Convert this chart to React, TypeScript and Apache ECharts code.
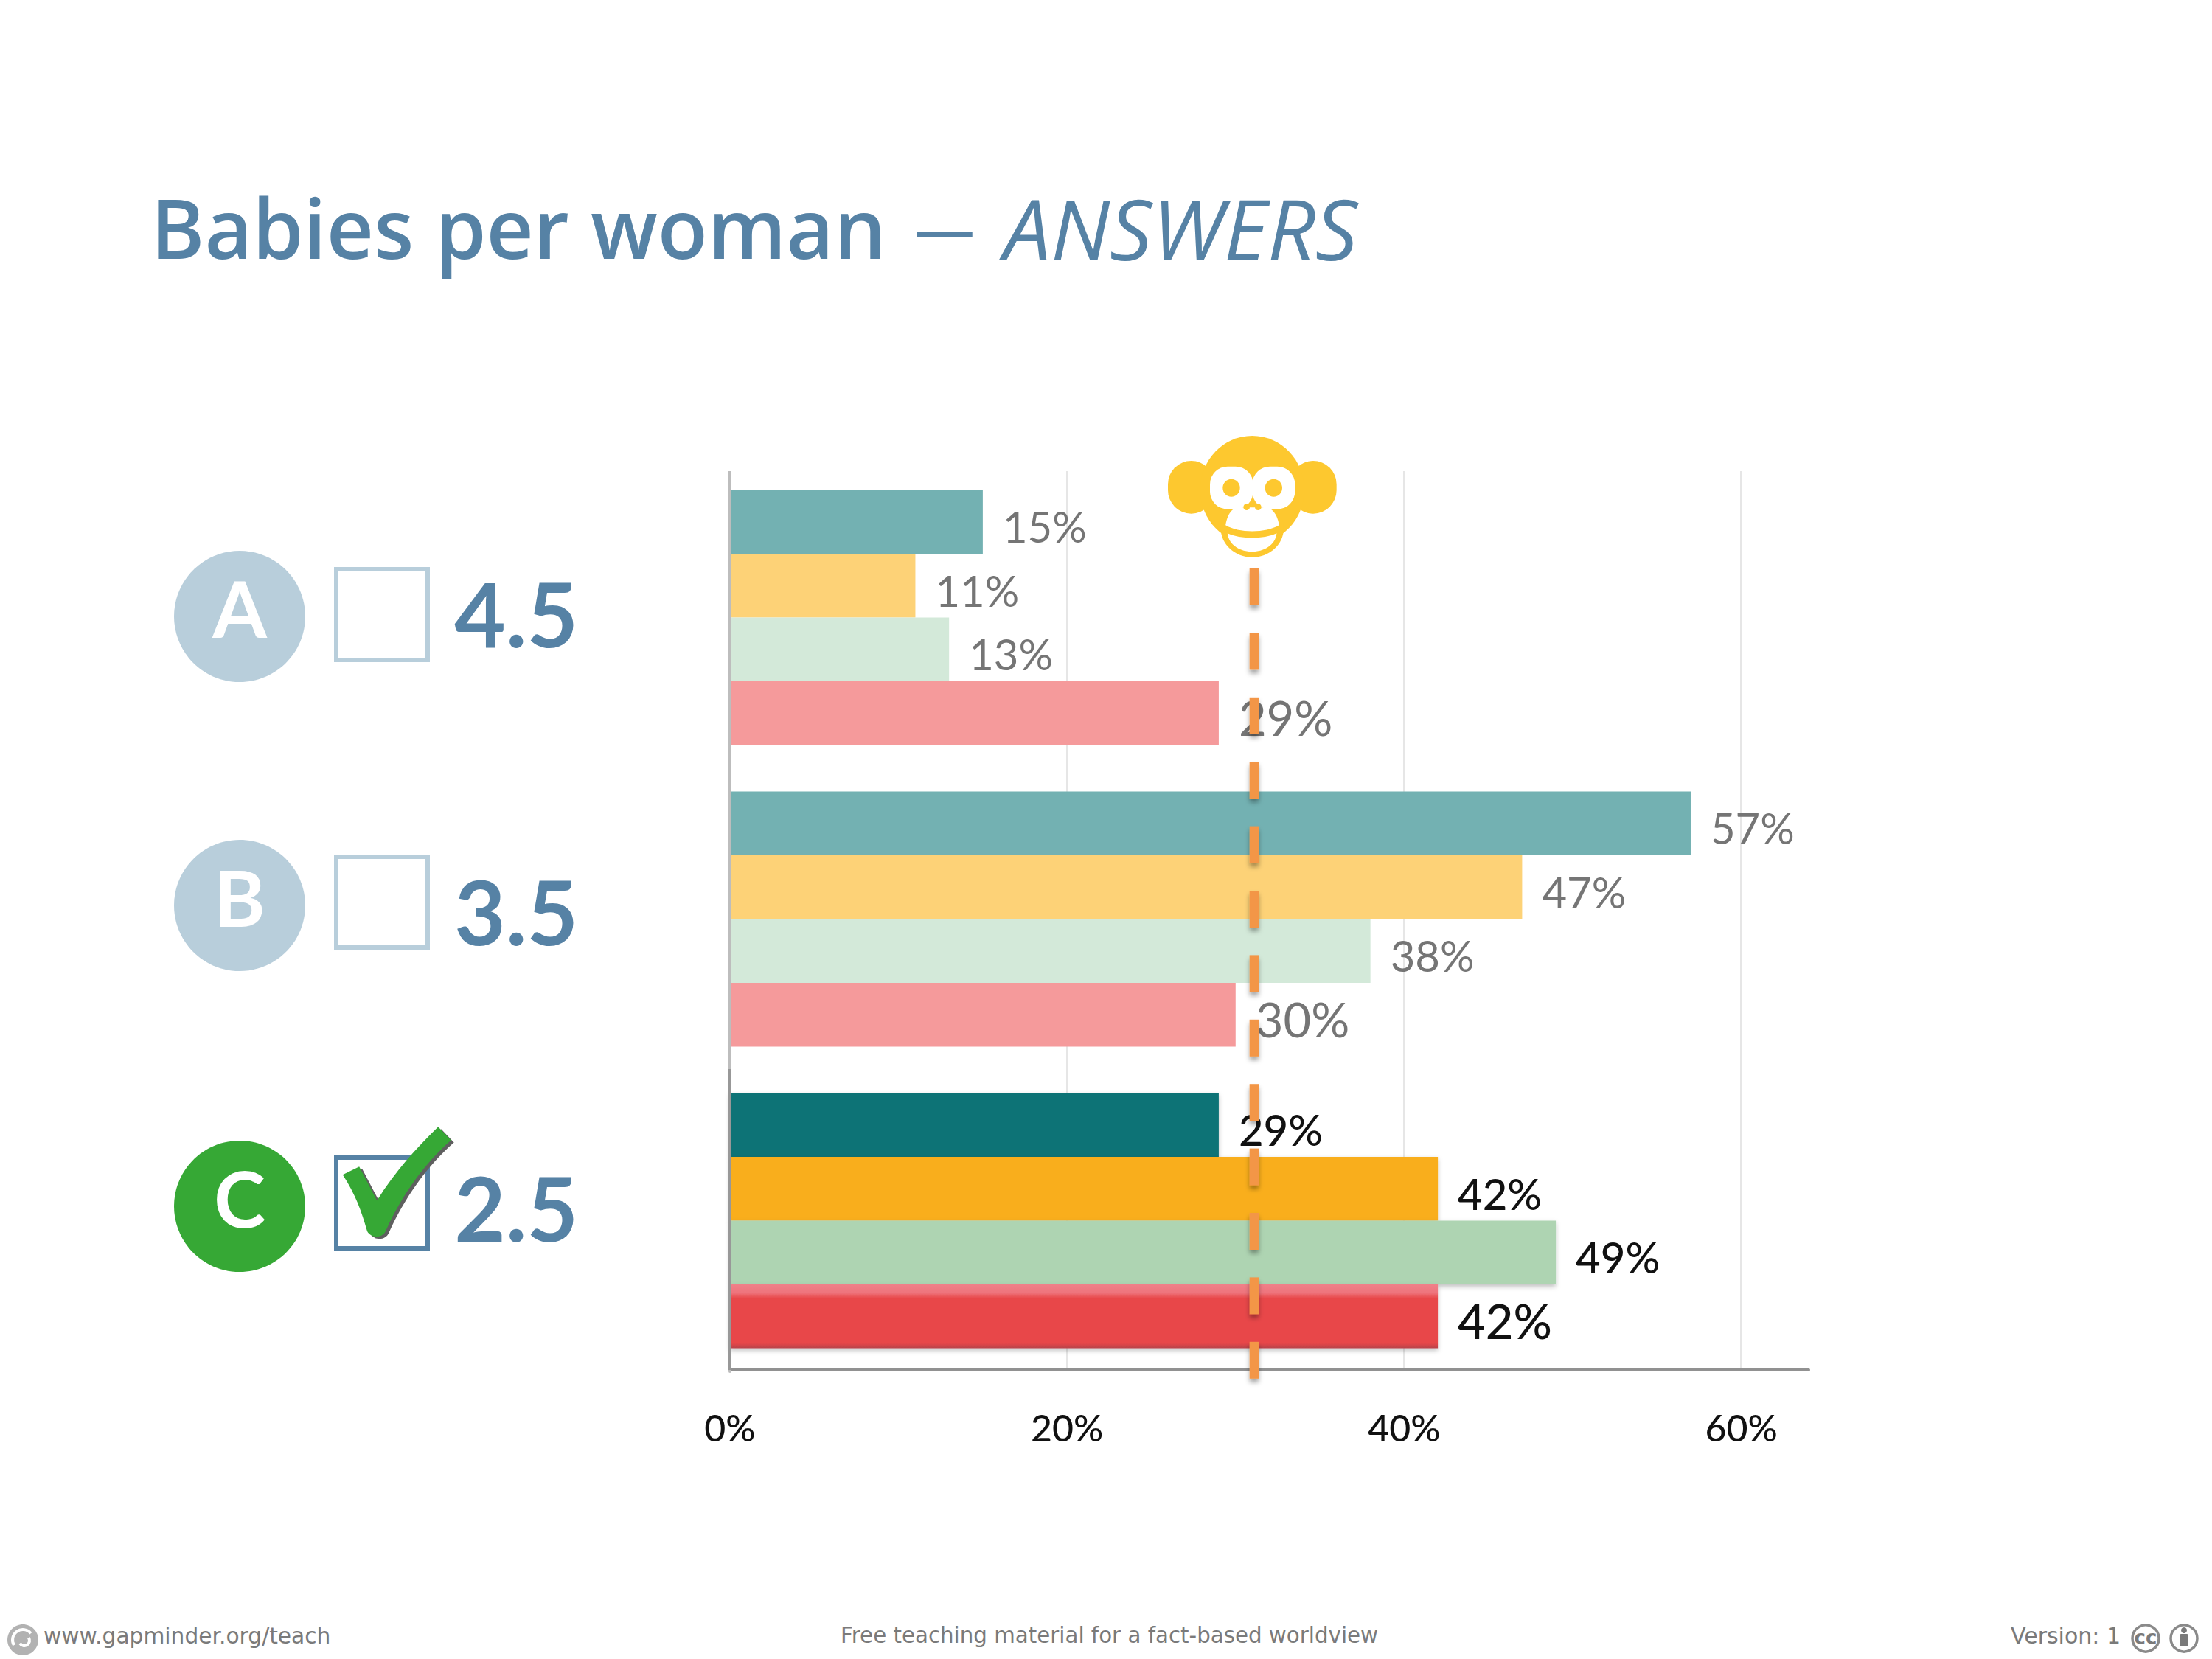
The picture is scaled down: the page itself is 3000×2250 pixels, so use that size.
import React, { useEffect, useRef } from "react";
import * as echarts from "echarts";

const categories = ["A", "B", "C"];
const answers = ["4.5", "3.5", "2.5"];
const row1 = [15, 57, 29];
const row2 = [11, 47, 42];
const row3 = [13, 38, 49];
const row4 = [29, 30, 42];
const monkeyGuess = 31.1;
const fadedColors = ["#73B1B2", "#FDD277", "#D3E9D9", "#F59A9B"];
const strongColors = ["#0D7376", "#F9AE1A", "#AED4B2", "#E84648"];
const BLUE = "#5682A5";
const PALE = "#B8CEDB";
const GREEN = "#36A835";
const YELLOW = "#FDC82F";
const GREY = "#7A7A7A";

const checkPath = "M638 280 L692 247 L750 385 C810 265 880 170 950 85 L992 140 C900 240 830 370 780 505 C770 540 730 540 718 510 C700 430 680 360 638 280 Z";
const muzzlePath = "M487 457 C492 425 505 395 530 385 L660 385 C685 395 700 425 705 457 C650 490 540 490 487 457 Z";
const mouthPath = "M495 490 C550 515 640 515 695 490 C690 540 640 565 595 565 C550 565 500 540 495 490 Z";
echarts.graphic.registerShape("check", echarts.graphic.extendPath(checkPath, {}));
echarts.graphic.registerShape("muzzle", echarts.graphic.extendPath(muzzlePath, {}));
echarts.graphic.registerShape("mouth", echarts.graphic.extendPath(mouthPath, {}));

const txt = (text: string, x: number, y: number, fontSize: number, fill: string, extra: any = {}) => ({
  type: "text",
  z: 20,
  x,
  y,
  style: {
    text,
    fontSize,
    fill,
    fontFamily: extra.fontFamily || "Lato",
    fontWeight: extra.fontWeight || "normal",
    fontStyle: extra.fontStyle || "normal",
    align: extra.align || "left",
    verticalAlign: "middle",
  },
});
const ell = (cx: number, cy: number, rx: number, ry: number, fill: string) => ({
  type: "ellipse",
  z: 20,
  shape: { cx, cy, rx, ry },
  style: { fill },
});
const mk = (X: number, Y: number) => [1500 + X / 3, 560 + Y / 3];
const mEll = (X: number, Y: number, rX: number, rY: number, fill: string) => {
  const [cx, cy] = mk(X, Y);
  return ell(cx, cy, rX / 3, rY / 3, fill);
};
const mRect = (X: number, Y: number, W: number, H: number, R: number, fill: string) => {
  const [x, y] = mk(X, Y);
  return { type: "rect", z: 20, shape: { x, y, width: W / 3, height: H / 3, r: R / 3 }, style: { fill } };
};

const choiceRows = [836, 1228, 1636];
const boxTops = [769, 1159, 1567];
const answerY = [832, 1236, 1638];

function buildGraphics() {
  const els: any[] = [
    { type: "rect", z: 7, shape: { x: 975, y: 625, width: 1500, height: 14 }, style: { fill: "#fff" } },
    { type: "line", z: 6, shape: { x1: 990, y1: 1450, x2: 990, y2: 1858 }, style: { stroke: "#989898", lineWidth: 4 } },
    txt("Babies per woman", 204, 308, 111.5, BLUE, { fontFamily: "Open Sans", fontWeight: 600 }),
    txt("—", 1240, 308, 82, BLUE, { fontFamily: "Open Sans" }),
    txt("ANSWERS", 1361, 308, 114, BLUE, { fontFamily: "Open Sans", fontStyle: "italic" }),
  ];
  categories.forEach((c, i) => {
    const on = i === 2;
    els.push(ell(325, choiceRows[i], 89, 89, on ? GREEN : PALE));
    els.push(txt(c, 325, choiceRows[i] - 12, 106, "#fff", { fontWeight: 700, align: "center" }));
    els.push({
      type: "rect",
      z: 20,
      shape: { x: 456, y: boxTops[i] + 3, width: 124, height: 123 },
      style: { fill: "none", stroke: on ? BLUE : PALE, lineWidth: 6 },
    });
    els.push(txt(answers[i], 784, answerY[i], 120, BLUE, { fontFamily: "Lato", fontWeight: 700, align: "right" }));
  });
  els.push({ type: "check", z: 21, x: 204, y: 1503, scaleX: 1 / 2.412, scaleY: 1 / 3, style: { fill: "#5F5F5F" } });
  els.push({ type: "check", z: 22, x: 200, y: 1500, scaleX: 1 / 2.412, scaleY: 1 / 3, style: { fill: GREEN } });

  // monkey
  els.push(mRect(252, 195, 190, 215, 95, YELLOW), mRect(748, 195, 190, 215, 95, YELLOW));
  els.push(mEll(595, 313, 212, 220, YELLOW), mEll(595, 470, 128, 117, YELLOW));
  els.push(mRect(423, 218, 176, 174, 72, "#fff"), mRect(595, 218, 174, 174, 72, "#fff"));
  els.push({ type: "muzzle", z: 21, x: 1500, y: 560, scaleX: 1 / 3, scaleY: 1 / 3, style: { fill: "#fff" } });
  els.push({ type: "mouth", z: 21, x: 1500, y: 560, scaleX: 1 / 3, scaleY: 1 / 3, style: { fill: "#fff" } });
  [mEll(510, 305, 35, 36, YELLOW), mEll(682, 305, 35, 36, YELLOW), mEll(572, 383, 13, 13, YELLOW), mEll(619, 383, 13, 13, YELLOW)].forEach((e: any) => {
    e.z = 22;
    els.push(e);
  });

  // footer
  els.push(txt("www.gapminder.org/teach", 59, 2218, 29.7, GREY, { fontFamily: "DejaVu Sans" }));
  els.push(txt("Free teaching material for a fact-based worldview", 1140, 2218, 29.3, GREY, { fontFamily: "DejaVu Sans" }));
  els.push(txt("Version: 1", 2727, 2218, 30, GREY, { fontFamily: "DejaVu Sans" }));
  els.push(ell(31, 2224, 21, 21, "#B2B2B2"));
  els.push({ type: "arc", z: 21, shape: { cx: 31, cy: 2224, r: 14, startAngle: 2.6, endAngle: 5.6 }, style: { stroke: "#fff", lineWidth: 4, fill: "none" } });
  els.push({ type: "arc", z: 21, shape: { cx: 33, cy: 2225, r: 7, startAngle: -0.6, endAngle: 2.6 }, style: { stroke: "#fff", lineWidth: 4, fill: "none" } });
  els.push({ type: "circle", z: 20, shape: { cx: 2910, cy: 2222, r: 18 }, style: { fill: "#fff", stroke: "#8A8A8A", lineWidth: 3.5 } });
  els.push(txt("cc", 2910, 2221, 26, "#7A7A7A", { fontFamily: "DejaVu Sans", fontWeight: 700, align: "center" }));
  els.push({ type: "circle", z: 20, shape: { cx: 2962, cy: 2222, r: 18 }, style: { fill: "#fff", stroke: "#8A8A8A", lineWidth: 3.5 } });
  els.push({ type: "circle", z: 21, shape: { cx: 2962, cy: 2211, r: 4 }, style: { fill: "#7A7A7A" } });
  els.push({ type: "rect", z: 21, shape: { x: 2956, y: 2216, width: 12, height: 17, r: 2 }, style: { fill: "#7A7A7A" } });
  return els;
}

const redBar = new echarts.graphic.LinearGradient(0, 0, 0, 1, [
  { offset: 0, color: "#F08089" },
  { offset: 0.13, color: "#EE747C" },
  { offset: 0.22, color: "#E84648" },
  { offset: 0.92, color: "#E84648" },
  { offset: 1, color: "#B8434B" },
]);

function barSeries(name: string, values: number[], idx: number) {
  return {
    name,
    type: "bar",
    z: idx === 3 ? 3 : 2,
    barWidth: 86.5,
    barGap: "0%",
    data: values.map((v, g) => {
      const strong = g === 2;
      const big = idx === 3;
      return {
        value: v,
        itemStyle: {
          color: strong && big ? redBar : strong ? strongColors[idx] : fadedColors[idx],
          ...(strong ? { shadowBlur: 6, shadowOffsetY: 3, shadowColor: "rgba(0,0,0,0.25)" } : {}),
        },
        label: {
          show: true,
          position: "right",
          distance: 27,
          offset: [0, 6],
          formatter: "{c}%",
          fontFamily: "Lato",
          fontSize: big ? 65 : 58,
          fontWeight: strong ? 500 : 400,
          color: strong ? "#111" : "#757575",
        },
      };
    }),
  };
}

const dashStarts = Array.from({ length: 13 }, (_, i) => 771 + i * 87.4);

export default function App() {
  const ref = useRef<HTMLDivElement>(null);
  useEffect(() => {
    document.body.style.margin = "0";
    document.body.style.background = "#fff";
    const chart = echarts.init(ref.current!, null, { renderer: "svg" });
    chart.setOption({
      animation: false,
      backgroundColor: "#fff",
      grid: { left: 990, top: 633, width: 1463, height: 1227, containLabel: false },
      xAxis: {
        type: "value",
        position: "bottom",
        min: 0,
        max: 64,
        interval: 20,
        offset: -2,
        axisLine: { show: true, onZero: false, lineStyle: { color: "#919191", width: 4 } },
        axisTick: { show: false },
        axisLabel: {
          formatter: "{value}%",
          margin: 53,
          fontFamily: "Lato",
          fontSize: 50,
          fontWeight: 500,
          color: "#111",
          showMaxLabel: false,
        },
        splitLine: { show: true, showMaxLine: false, lineStyle: { color: "#E6E6E6", width: 3 } },
      },
      yAxis: {
        type: "category",
        inverse: true,
        z: 5,
        data: categories,
        axisLine: { show: true, lineStyle: { color: "#BDBDBD", width: 4 } },
        axisTick: { show: false },
        axisLabel: { show: false },
        splitLine: { show: false },
      },
      series: [
        barSeries("Row 1", row1, 0),
        barSeries("Row 2", row2, 1),
        barSeries("Row 3", row3, 2),
        barSeries("Row 4", row4, 3),
        {
          name: "Monkey guess",
          type: "custom",
          z: 10,
          data: [[monkeyGuess, 0]],
          encode: { x: 0, y: 1 },
          renderItem: (_: any, api: any) => {
            const x = api.coord([api.value(0), 0])[0];
            return {
              type: "group",
              children: dashStarts.map((y) => ({
                type: "rect",
                shape: { x: x - 6.25, y, width: 12.5, height: 50 },
                style: {
                  fill: "#F39646",
                  shadowBlur: 6,
                  shadowOffsetY: 5,
                  shadowColor: "rgba(0,0,0,0.35)",
                },
              })),
            };
          },
        },
      ],
      graphic: { elements: buildGraphics() },
    });
    return () => chart.dispose();
  }, []);
  return <div ref={ref} style={{ position: "absolute", left: 0, top: 0, width: 3000, height: 2250 }} />;
}
